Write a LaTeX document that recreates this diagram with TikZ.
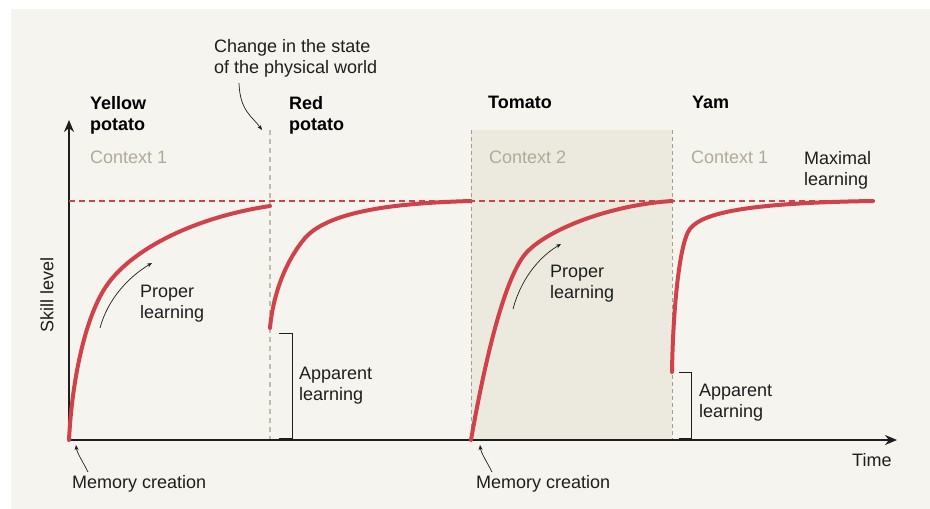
\documentclass[tikz,border=0pt]{standalone}
\usepackage{fontspec}
\setmainfont{Liberation Sans}
\usetikzlibrary{arrows.meta,positioning}
\definecolor{panelbg}{HTML}{F5F4EE}
\definecolor{ctxfill}{HTML}{ECEADF}
\definecolor{ctxgray}{HTML}{AEAC94}
\definecolor{splitgray}{HTML}{BEBCA8}
\definecolor{skillred}{HTML}{D0424A}
\definecolor{inkblack}{HTML}{1E1E1E}

\begin{document}
\begin{tikzpicture}[x=1pt,y=-1pt,
  every node/.style={font=\fontsize{18}{21}\selectfont,text=inkblack,
                     inner sep=0pt,align=left},
  crop/.style={font=\fontsize{18}{21}\selectfont\bfseries,text=black},
  ctx/.style={text=ctxgray},
  split/.style={draw=splitgray,line width=1.6pt,dash pattern=on 5pt off 4pt},
  bandedge/.style={draw=splitgray!85!black,line width=0.8pt,dash pattern=on 4pt off 3pt},
  maxline/.style={draw=skillred,line width=1.1pt,dash pattern=on 6pt off 4pt},
  curve/.style={draw=skillred,line width=4pt,line cap=round},
  axis/.style={-{Stealth[length=12pt,width=10pt]},line width=1.3pt,draw=inkblack},
  ann/.style={-{Stealth[length=5pt,width=4pt]},line width=0.7pt,draw=inkblack},
  brk/.style={line width=1pt,draw=inkblack}
]
  \useasboundingbox (0,0) rectangle (930,509);
  \fill[white] (0,0) rectangle (930,509);
  \fill[panelbg] (11,9) rectangle (930,509);
  % second context band
  \fill[ctxfill] (471,130) rectangle (672,440);
  \draw[split] (270,130) -- (270,440);
  \draw[bandedge] (471,130) -- (471,440);
  \draw[bandedge] (672,130) -- (672,440);

  % axes
  \coordinate (O) at (69,440);
  \draw[axis] (O) -- (69,120);
  \draw[axis] (O) -- (897,440);

  % maximal level
  \draw[maxline] (69,201) -- (877,201);

  % skill curves, one per crop
  \draw[curve] (69,440) .. controls (72,380) and (85,319) .. (105,288)
               .. controls (128,252) and (190,218) .. (270,206);
  \draw[curve] (270,328) .. controls (273,295) and (285,262) .. (305,238)
               .. controls (330,210) and (400,203) .. (471,201);
  \draw[curve] (471,440) .. controls (485,360) and (505,275) .. (527,252)
               .. controls (549,229) and (610,205) .. (672,201);
  \draw[curve] (672,372) .. controls (673,310) and (679,250) .. (688,232)
               .. controls (697,214) and (740,203) .. (873,201);

  % labels
  \node[anchor=north west] (chg) at (214,39) {Change in the state\\of the physical world};
  \node[crop,anchor=north west] (yellow) at (90,96) {Yellow\\potato};
  \node[crop,anchor=north west] (red) at (289,96) {Red\\potato};
  \node[crop,anchor=north west] (tomato) at (488,96) {Tomato};
  \node[crop,anchor=north west] (yam) at (692,96) {Yam};
  \node[ctx,anchor=north west] (ctxA) at (90,151) {Context 1};
  \node[ctx,anchor=north west] (ctxB) at (489,151) {Context 2};
  \node[ctx,anchor=north west] (ctxC) at (691,151) {Context 1};
  \node[anchor=north west] (maxl) at (804,151) {Maximal\\learning};
  \node[anchor=north west] (pl1) at (140,285) {Proper\\learning};
  \node[anchor=north west] (pl2) at (550,265) {Proper\\learning};
  \node[anchor=north west] (app1) at (299,367) {Apparent\\learning};
  \node[anchor=north west] (app2) at (699,384) {Apparent\\learning};
  \node[anchor=north west] (mem1) at (72,475) {Memory creation};
  \node[anchor=north west] (mem2) at (476,475) {Memory creation};
  \node[anchor=north west] (time) at (852,453) {Time};
  \node[rotate=90] (skill) at (47,295) {Skill level};

  % pointers
  \coordinate (chgtip) at (262,130);
  \coordinate (mem1tip) at (76,445);
  \coordinate (mem2tip) at (480,445);
  \coordinate (pl1tail) at (100,328);
  \coordinate (pl1tip) at (152,263);
  \coordinate (pl2tail) at (513,309);
  \coordinate (pl2tip) at (561,244);
  \draw[ann] ([xshift=25pt,yshift=-6pt]chg.south west) .. controls +(1,28) and +(-10,-14) .. (chgtip);
  \draw[ann] ([xshift=16pt,yshift=3pt]mem1.north west) .. controls +(-5,-10) and +(1,8) .. (mem1tip);
  \draw[ann] ([xshift=16pt,yshift=3pt]mem2.north west) .. controls +(-5,-10) and +(1,8) .. (mem2tip);
  \draw[ann] (pl1tail) .. controls +(8,-30) and +(-22,13) .. (pl1tip);
  \draw[ann] (pl2tail) .. controls +(8,-30) and +(-22,13) .. (pl2tip);

  % apparent learning brackets
  \draw[brk] (279,333) -- (292,333) -- (292,438) -- (279,438);
  \draw[brk] (679,372) -- (691,372) -- (691,438) -- (679,438);
\end{tikzpicture}
\end{document}
